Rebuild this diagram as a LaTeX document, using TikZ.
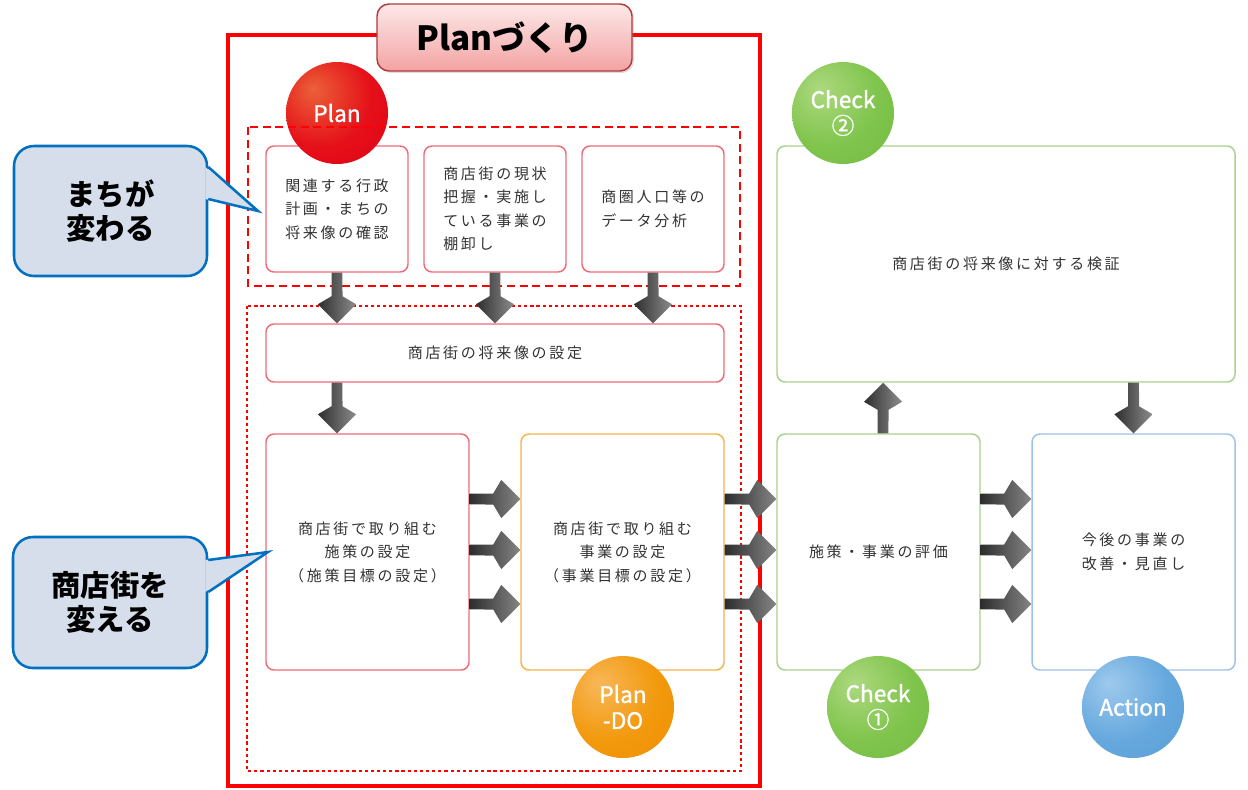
\documentclass[tikz,border=0pt]{standalone}
\usepackage{fontspec}
\setmainfont{Noto Sans CJK JP}
\newfontfamily\jpbox{Noto Sans CJK JP}[LetterSpace=18]
\newfontfamily\circfont{Noto Sans CJK JP}[FakeBold=1.2]
\usetikzlibrary{calc,shadows}
\definecolor{boxred}{HTML}{F06A78}
\definecolor{boxorange}{HTML}{F7B24A}
\definecolor{boxgreen}{HTML}{A9D18E}
\definecolor{boxblue}{HTML}{9DC3E6}
\definecolor{txtgray}{HTML}{333333}
\definecolor{calloutfill}{HTML}{D5DEEA}
\definecolor{calloutline}{HTML}{0070C0}
\definecolor{titleline}{HTML}{B23A3A}
\definecolor{titletop}{HTML}{FDE8E8}
\definecolor{titlebot}{HTML}{F3A3A3}
\definecolor{framered}{HTML}{FF0000}
\pgfdeclareradialshading{redball}{\pgfpoint{-12bp}{12bp}}{rgb(0bp)=(0.92,0.38,0.22); rgb(25bp)=(0.90,0.06,0.10); rgb(50bp)=(0.86,0,0.08); rgb(66bp)=(0.70,0,0.05); rgb(80bp)=(0.70,0,0.05)}
\pgfdeclareradialshading{orangeball}{\pgfpoint{-12bp}{12bp}}{rgb(0bp)=(0.97,0.72,0.35); rgb(25bp)=(0.95,0.60,0.05); rgb(50bp)=(0.93,0.55,0); rgb(66bp)=(0.78,0.42,0); rgb(80bp)=(0.78,0.42,0)}
\pgfdeclareradialshading{greenball}{\pgfpoint{-12bp}{12bp}}{rgb(0bp)=(0.68,0.85,0.50); rgb(25bp)=(0.50,0.77,0.30); rgb(50bp)=(0.45,0.72,0.25); rgb(66bp)=(0.33,0.58,0.18); rgb(80bp)=(0.33,0.58,0.18)}
\pgfdeclareradialshading{blueball}{\pgfpoint{-12bp}{12bp}}{rgb(0bp)=(0.62,0.79,0.93); rgb(25bp)=(0.40,0.66,0.87); rgb(50bp)=(0.34,0.61,0.83); rgb(66bp)=(0.20,0.45,0.70); rgb(80bp)=(0.20,0.45,0.70)}
\tikzset{
  box/.style={draw, rounded corners=6pt, fill=white, line width=1.1pt, font=\jpbox\fontsize{11.25pt}{17.6pt}\selectfont, text=txtgray, inner sep=0pt},
  rbox/.style={box, draw=boxred},
  obox/.style={box, draw=boxorange},
  gbox/.style={box, draw=boxgreen},
  bbox/.style={box, draw=boxblue},
  circ/.style={circle, minimum size=76.5pt, inner sep=0pt, text=white, font=\circfont\fontsize{17pt}{19.5pt}\selectfont, align=center},
  callout/.style={draw=calloutline, fill=calloutfill, line width=1.9pt, rounded corners=15pt, font=\bfseries\fontsize{22pt}{25pt}\selectfont, align=center, inner sep=0pt},
  cpointer/.style={fill=calloutfill},
  cpointerline/.style={draw=calloutline, line width=1.9pt, line join=miter},
  titlebox/.style={draw=titleline, line width=1.1pt, top color=titletop, bottom color=titlebot, rounded corners=9pt, font=\bfseries\fontsize{25pt}{30pt}\selectfont, minimum width=191.25pt, minimum height=50.25pt, drop shadow={opacity=0.25, shadow xshift=1.5pt, shadow yshift=-1.5pt}},
  frame/.style={draw=framered, line width=3pt},
  dashframe/.style={draw=framered, line width=1.6pt, dash pattern=on 6pt off 3.5pt},
  dotframe/.style={draw=framered, line width=2.2pt, dash pattern=on 2.4pt off 2.2pt},
  downshade/.style={left color=black!82, right color=black!45},
  upshade/.style={left color=black!82, right color=black!45},
  rightshade/.style={left color=black!82, right color=black!48},
}
\newcommand{\garrow}[3]{%
  \path[#3] (#2) -- ($(#2)!20.2pt!45:(#1)$) -- ($(#2)!20.7pt!11.5:(#1)$) -- ($(#1)!4.1pt!-90:(#2)$) -- ($(#1)!4.1pt!90:(#2)$) -- ($(#2)!20.7pt!-11.5:(#1)$) -- ($(#2)!20.2pt!-45:(#1)$) -- cycle;}
\begin{document}
\begin{tikzpicture}[x=0.75pt,y=-0.75pt]
\useasboundingbox (0,0) rectangle (1248,789);
\fill[white] (0,0) rectangle (1248,789);

% big frame
\draw[frame] (228,35) rectangle (760,786);
\node[titlebox] (title) at (504.5,37.5) {Planづくり};

% boxes
\node[rbox, minimum width=106.5pt, minimum height=94.5pt, align=center] (b1) at (337,209) {関連する行政\\計画・まちの\\将来像の確認};
\node[rbox, minimum width=106.5pt, minimum height=94.5pt, align=left] (b2) at (495,209) {商店街の現状\\把握・実施し\\ている事業の\\棚卸し};
\node[rbox, minimum width=106.5pt, minimum height=94.5pt, align=left] (b3) at (653,209) {商圏人口等の\\データ分析};
\node[rbox, minimum width=343.5pt, minimum height=43.5pt] (s) at (495,353) {商店街の将来像の設定};
\node[rbox, minimum width=152.25pt, minimum height=177pt, align=center] (b4) at (367.5,552) {商店街で取り組む\\施策の設定\\（施策目標の設定）};
\node[obox, minimum width=152.25pt, minimum height=177pt, align=center] (b5) at (622.5,552) {商店街で取り組む\\事業の設定\\（事業目標の設定）};
\node[gbox, minimum width=152.25pt, minimum height=177pt, align=center] (b6) at (878.5,552) {施策・事業の評価};
\node[bbox, minimum width=152.25pt, minimum height=177pt, align=center] (b7) at (1133.5,552) {今後の事業の\\改善・見直し};
\node[gbox, minimum width=343.5pt, minimum height=177pt, align=center] (b8) at (1006,264) {商店街の将来像に対する検証};

% frames inside
\node[circ, shading=redball] (plan) at (337,113) {Plan};
\draw[dashframe] (248,127) rectangle (740,286);
\draw[dotframe] (247,306) rectangle (741,771);

% circles
\node[circ, shading=greenball] (check2) at (843,113) {Check\\②};
\node[circ, shading=orangeball] (plando) at (623,707) {Plan\\-DO};
\node[circ, shading=greenball] (check1) at (878,707) {Check\\①};
\node[circ, shading=blueball] (action) at (1133,707) {Action};

% arrow coordinates
\coordinate (d1s) at (b1.south);
\coordinate (d1e) at (b1.south |- s.north);
\coordinate (d2s) at (b2.south);
\coordinate (d2e) at (b2.south |- s.north);
\coordinate (d3s) at (b3.south);
\coordinate (d3e) at (b3.south |- s.north);
\coordinate (d4s) at (b1.south |- s.south);
\coordinate (d4e) at (b1.south |- b4.north);
\garrow{d1s}{d1e}{downshade}
\garrow{d2s}{d2e}{downshade}
\garrow{d3s}{d3e}{downshade}
\garrow{d4s}{d4e}{downshade}

\foreach \dy [count=\i] in {-53,-2,52}{
  \coordinate (ra\i) at ($(b4.east)+(0,\dy)$);
  \coordinate (rb\i) at ($(b5.west)+(0,\dy)$);
  \coordinate (rc\i) at ($(b5.east)+(0,\dy)$);
  \coordinate (rd\i) at ($(b6.west)+(0,\dy)$);
  \coordinate (re\i) at ($(b6.east)+(0,\dy)$);
  \coordinate (rf\i) at ($(b7.west)+(0,\dy)$);
  \garrow{ra\i}{rb\i}{rightshade}
  \garrow{rc\i}{rd\i}{rightshade}
  \garrow{re\i}{rf\i}{rightshade}
}
\coordinate (u1s) at ($(b6.north)+(4.5,0)$);
\coordinate (u1e) at (u1s |- b8.south);
\garrow{u1s}{u1e}{upshade}
\coordinate (v1s) at (b7.north |- b8.south);
\garrow{v1s}{b7.north}{downshade}

% callouts
\node[callout, minimum width=144.75pt, minimum height=97.5pt] (m1) at (110.5,211) {まちが\\変わる};
\coordinate (m1a) at ($(m1.east)+(0,-44)$);
\coordinate (m1b) at ($(m1.east)+(0,-12)$);
\coordinate (m1t) at (258,211);
\fill[cpointer] ($(m1a)+(-3,0)$) -- (m1t) -- ($(m1b)+(-3,0)$) -- cycle;
\draw[cpointerline] (m1a) -- (m1t) -- (m1b);

\node[callout, minimum width=145.5pt, minimum height=98.25pt] (m2) at (110,602.5) {商店街を\\変える};
\coordinate (m2a) at ($(m2.east)+(0,-42.5)$);
\coordinate (m2b) at ($(m2.east)+(0,-10.5)$);
\coordinate (m2t) at (268,552);
\fill[cpointer] ($(m2a)+(-3,0)$) -- (m2t) -- ($(m2b)+(-3,0)$) -- cycle;
\draw[cpointerline] (m2a) -- (m2t) -- (m2b);
\end{tikzpicture}
\end{document}
